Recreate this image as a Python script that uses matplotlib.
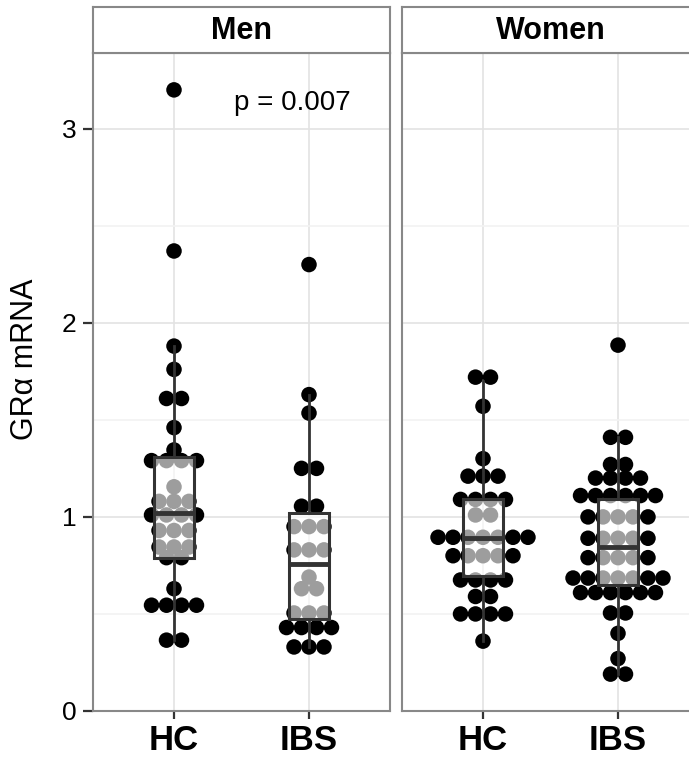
import numpy as np
import matplotlib.pyplot as plt

plt.rcParams['font.family'] = ['Liberation Sans', 'DejaVu Sans']

panels = ["Men", "Women"]
groups = ["HC", "IBS"]

# dot values (one entry per dot)
men_hc = [3.2, 2.37, 1.88, 1.76, 1.61, 1.61, 1.46, 1.345, 1.29, 1.29, 1.29, 1.29,
          1.155, 1.08, 1.08, 1.08, 1.01, 1.01, 1.01, 1.01, 0.93, 0.93, 0.93,
          0.845, 0.845, 0.845, 0.79, 0.79, 0.63, 0.545, 0.545, 0.545, 0.545,
          0.365, 0.365]
men_ibs = [2.30, 1.63, 1.535, 1.25, 1.25, 1.055, 1.055, 0.95, 0.95, 0.95,
           0.83, 0.83, 0.83, 0.69, 0.63, 0.63, 0.505, 0.505, 0.505,
           0.43, 0.43, 0.43, 0.43, 0.33, 0.33, 0.33]
women_hc = [1.72, 1.72, 1.57, 1.30, 1.21, 1.21, 1.21, 1.09, 1.09, 1.09, 1.09,
            1.01, 1.01, 0.895, 0.895, 0.895, 0.895, 0.895, 0.895, 0.895,
            0.80, 0.80, 0.80, 0.80, 0.80, 0.675, 0.675, 0.675, 0.675,
            0.59, 0.59, 0.50, 0.50, 0.50, 0.50, 0.36]
women_ibs = [1.885, 1.41, 1.41, 1.27, 1.27, 1.20, 1.20, 1.20, 1.20,
             1.11, 1.11, 1.11, 1.11, 1.11, 1.11, 1.0, 1.0, 1.0, 1.0, 1.0,
             0.89, 0.89, 0.89, 0.89, 0.89, 0.79, 0.79, 0.79, 0.79, 0.79,
             0.685, 0.685, 0.685, 0.685, 0.685, 0.685, 0.685,
             0.61, 0.61, 0.61, 0.61, 0.61, 0.61, 0.505, 0.505, 0.40, 0.27,
             0.19, 0.19]

# box stats: lower whisker, q1, median, q3, upper whisker
men_hc_box = [0.365, 0.79, 1.02, 1.31, 1.88]
men_ibs_box = [0.33, 0.475, 0.755, 1.02, 1.63]
women_hc_box = [0.36, 0.695, 0.89, 1.09, 1.70]
women_ibs_box = [0.19, 0.65, 0.845, 1.09, 1.41]

p_label = "p = 0.007"

data = {"Men": [men_hc, men_ibs], "Women": [women_hc, women_ibs]}
boxes = {"Men": [men_hc_box, men_ibs_box], "Women": [women_hc_box, women_ibs_box]}

W, H = 689, 766
fig = plt.figure(figsize=(W / 100, H / 100), dpi=100)

panel_left = [93, 402]
panel_w = 297
panel_top, panel_bot = 53, 711
strip_top = 7
dot_step = 0.111
border = '#888888'
dark = '#333333'

for i, name in enumerate(panels):
    x0 = panel_left[i] / W
    ax = fig.add_axes([x0, (H - panel_bot) / H, panel_w / W, (panel_bot - panel_top) / H])
    sax = fig.add_axes([x0, (H - panel_top) / H, panel_w / W, (panel_top - strip_top) / H])

    # dotplot-style stacking: equal values side by side, centred
    for j, vals in enumerate(data[name]):
        u, c = np.unique(vals, return_counts=True)
        xs, ys = [], []
        for v, n in zip(u, c):
            off = (np.arange(n) - (n - 1) / 2) * dot_step
            xs.extend(j + 1 + off)
            ys.extend([v] * n)
        ax.scatter(xs, ys, s=125, color='black', edgecolors='none', zorder=2)

    stats = []
    for b in boxes[name]:
        stats.append(dict(whislo=b[0], q1=b[1], med=b[2], q3=b[3], whishi=b[4], fliers=[]))
    ax.bxp(stats, positions=[1, 2], widths=0.3, patch_artist=True, showcaps=False,
           showfliers=False, manage_ticks=False,
           boxprops=dict(facecolor=(1, 1, 1, 0.62), edgecolor=dark, linewidth=2.2),
           medianprops=dict(color=dark, linewidth=3.5, solid_capstyle='butt'),
           whiskerprops=dict(color=dark, linewidth=2), zorder=3)

    ax.set_xlim(0.4, 2.6)
    ax.set_ylim(0, 3.39)
    ax.set_xticks([1, 2])
    ax.set_xticklabels(groups, fontsize=25, fontweight='bold')
    ax.set_yticks([0, 1, 2, 3])
    ax.set_yticks([0.5, 1.5, 2.5], minor=True)
    ax.grid(which='major', color='#e3e3e3', linewidth=1.2, zorder=0)
    ax.grid(which='minor', axis='y', color='#f2f2f2', linewidth=1.2, zorder=0)
    ax.set_axisbelow(True)
    ax.tick_params(which='minor', length=0)
    ax.tick_params(axis='x', length=6, width=1.6, color=dark, pad=3)
    ax.tick_params(axis='y', length=7, width=1.6, color=dark, labelsize=19, pad=5)
    for sp in ax.spines.values():
        sp.set_color(border)
        sp.set_linewidth(1.5)
    if i == 0:
        ax.set_ylabel("GR\u03b1 mRNA", fontsize=22)
        # ggplot centres the title over panel + strip
        ax.yaxis.set_label_coords((40 - panel_left[0]) / panel_w,
                                  (panel_bot - (strip_top + panel_bot) / 2) / (panel_bot - panel_top))
        ax.text(1.88, 3.13, p_label, ha='center', va='center', fontsize=20)
    else:
        ax.tick_params(axis='y', left=False, labelleft=False)

    sax.set_xticks([])
    sax.set_yticks([])
    for sp in sax.spines.values():
        sp.set_color(border)
        sp.set_linewidth(1.5)
    sax.text(0.5, 0.48, name, transform=sax.transAxes, ha='center', va='center',
             fontsize=22, fontweight='bold')

fig.savefig("out.png", dpi=100)
